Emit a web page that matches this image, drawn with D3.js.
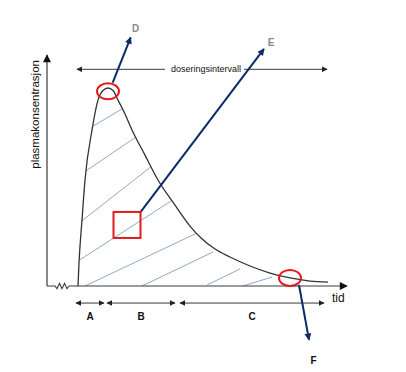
<!DOCTYPE html>
<html>
<head>
<meta charset="utf-8">
<script src="https://cdn.jsdelivr.net/npm/d3@7"></script>
<style>
  html, body { margin: 0; padding: 0; background: #fff; }
  svg { display: block; font-family: "Liberation Sans", Arial, sans-serif; }
</style>
</head>
<body>
<div id="chart"></div>
<script>
// concentration curve (time in h, concentration in arbitrary units)
var curveTime = [3.1, 3.2, 3.5, 3.8, 4.5, 5.1, 5.6, 6.1, 6.6, 7.1, 7.8, 8.5, 9.8, 11.1, 12.8, 14.3, 15.3, 16.8, 18.3, 20.3, 22.3, 24.3, 26.3, 28.1];
var curveConc = [0, 2.1, 6.0, 9.64, 14.18, 16.9, 17.77, 18.0, 17.77, 16.9, 15.64, 14.18, 11.9, 9.64, 7.36, 5.45, 4.45, 3.36, 2.64, 1.82, 1.18, 0.73, 0.45, 0.36];

// hatching under the curve: start time, start conc, end time, end conc
var hatchStartT = [3.8, 3.3, 2.8, 2.5, 3.8, 9.5, 16.0, 19.6];
var hatchStartC = [14.1, 10.1, 5.43, 1.92, 0, 0, 0.09, 0];
var hatchEndT = [8.8, 9.8, 11.8, 13.8, 15.8, 16.6, 19.3, 22.5];
var hatchEndC = [16.8, 14.1, 11.84, 8.54, 5.16, 3.09, 1.55, 0.82];

// phases under the time axis
var phaseLabels = ["A", "B", "C"];
var phaseStart = [2.9, 6.0, 13.3];
var phaseEnd = [5.7, 12.8, 27.7];

var doseInterval = [3.0, 28.0];

// annotation arrows: label, arrow start (t, c), arrow end (t, c), label position
var noteLabels = ["D", "E", "F"];
var noteStart = [[6.57, 18.48], [9.37, 6.73], [25.2, 0.09]];
var noteEnd = [[8.37, 22.6], [21.7, 21.55], [26.2, -4.9]];
var notePos = [[8.85, 23.4], [22.4, 22.1], [26.65, -6.8]];

var width = 406, height = 372;

var svg = d3.select("#chart").append("svg")
  .attr("width", width)
  .attr("height", height);

var x = d3.scaleLinear().domain([0, 30]).range([47, 347]);
var y = d3.scaleLinear().domain([0, 21]).range([286, 55]);

var axisCol = "#3a3a3a";
var navy = "#0c2a66";
var red = "#e3191c";

var defs = svg.append("defs");
function marker(id, col, w, h) {
  defs.append("marker")
    .attr("id", id)
    .attr("viewBox", "0 -5 10 10")
    .attr("refX", 9)
    .attr("refY", 0)
    .attr("markerUnits", "userSpaceOnUse")
    .attr("markerWidth", w)
    .attr("markerHeight", h)
    .attr("orient", "auto-start-reverse")
    .append("path")
    .attr("d", "M0,-5L10,0L0,5Z")
    .attr("fill", col);
}
marker("axisHead", "#111", 10, 8);
marker("smallHead", "#222", 6, 6);
marker("navyHead", navy, 7, 7);

var pts = curveTime.map(function(t, i) { return [t, curveConc[i]]; });

// clip area under the curve for the hatching
defs.append("clipPath").attr("id", "under")
  .append("path")
  .attr("d", d3.area()
    .x(function(d) { return x(d[0]); })
    .y0(y(0))
    .y1(function(d) { return y(d[1]); })
    .curve(d3.curveMonotoneX)(pts));

svg.append("g").attr("clip-path", "url(#under)")
  .selectAll(".hatch")
  .data(hatchStartT)
  .enter()
  .append("line")
  .attr("class", "hatch")
  .attr("x1", function(d, i) { return x(d); })
  .attr("y1", function(d, i) { return y(hatchStartC[i]); })
  .attr("x2", function(d, i) { return x(hatchEndT[i]); })
  .attr("y2", function(d, i) { return y(hatchEndC[i]); })
  .attr("stroke", "#8ea8cc")
  .attr("stroke-width", 1);

// axes
svg.append("line")
  .attr("x1", x(0)).attr("y1", y(0))
  .attr("x2", x(0)).attr("y2", y(21))
  .attr("stroke", axisCol).attr("stroke-width", 1.2)
  .attr("marker-end", "url(#axisHead)");

var zigT = [0, 0.8, 1.0, 1.25, 1.5, 1.75, 2.0, 2.2];
var zigC = [0, 0, -0.25, 0.25, -0.25, 0.25, -0.25, 0];
svg.append("path")
  .attr("d", d3.line()
    .x(function(d) { return x(d); })
    .y(function(d, i) { return y(zigC[i]); })(zigT))
  .attr("fill", "none")
  .attr("stroke", axisCol).attr("stroke-width", 1.1);

svg.append("line")
  .attr("x1", x(2.2)).attr("y1", y(0))
  .attr("x2", x(30)).attr("y2", y(0))
  .attr("stroke", axisCol).attr("stroke-width", 1.2)
  .attr("marker-end", "url(#axisHead)");

// concentration curve
svg.append("path")
  .attr("d", d3.line()
    .x(function(d) { return x(d[0]); })
    .y(function(d) { return y(d[1]); })
    .curve(d3.curveMonotoneX)(pts))
  .attr("fill", "none")
  .attr("stroke", "#333")
  .attr("stroke-width", 1.3);

// axis titles
svg.append("text")
  .attr("transform", "translate(" + x(-1.25) + "," + y(15.6) + ") rotate(-90)")
  .attr("text-anchor", "middle")
  .attr("dy", "0.35em")
  .attr("font-size", "11.5px")
  .attr("fill", "#111")
  .text("plasmakonsentrasjon");

svg.append("text")
  .attr("x", x(28.5))
  .attr("y", y(-1.45))
  .attr("font-size", "12px")
  .attr("fill", "#111")
  .text("tid");

// dosing interval arrow
var doseY = y(19.7);
var doseText = svg.append("text")
  .attr("x", x(15.9))
  .attr("y", doseY)
  .attr("dy", "0.35em")
  .attr("text-anchor", "middle")
  .attr("font-size", "9px")
  .attr("fill", "#111")
  .text("doseringsintervall");
var bb = doseText.node().getBBox();
svg.append("line")
  .attr("x1", bb.x - 6).attr("y1", doseY)
  .attr("x2", x(doseInterval[0])).attr("y2", doseY)
  .attr("stroke", axisCol).attr("stroke-width", 1)
  .attr("marker-end", "url(#smallHead)");
svg.append("line")
  .attr("x1", bb.x + bb.width + 3).attr("y1", doseY)
  .attr("x2", x(doseInterval[1])).attr("y2", doseY)
  .attr("stroke", axisCol).attr("stroke-width", 1)
  .attr("marker-end", "url(#smallHead)");

// phases A, B, C
var phaseY = y(-1.55);
svg.selectAll(".phase")
  .data(phaseLabels)
  .enter()
  .append("line")
  .attr("class", "phase")
  .attr("x1", function(d, i) { return x(phaseStart[i]); })
  .attr("x2", function(d, i) { return x(phaseEnd[i]); })
  .attr("y1", phaseY).attr("y2", phaseY)
  .attr("stroke", axisCol).attr("stroke-width", 1)
  .attr("marker-start", "url(#smallHead)")
  .attr("marker-end", "url(#smallHead)");

svg.selectAll(".phase-label")
  .data(phaseLabels)
  .enter()
  .append("text")
  .attr("class", "phase-label")
  .attr("x", function(d, i) { return x((phaseStart[i] + phaseEnd[i]) / 2); })
  .attr("y", y(-2.75))
  .attr("dy", "0.35em")
  .attr("text-anchor", "middle")
  .attr("font-size", "10px")
  .attr("font-weight", "bold")
  .attr("fill", "#111")
  .text(function(d) { return d; });

// navy annotation arrows
svg.selectAll(".note-arrow")
  .data(noteLabels)
  .enter()
  .append("line")
  .attr("class", "note-arrow")
  .attr("x1", function(d, i) { return x(noteStart[i][0]); })
  .attr("y1", function(d, i) { return y(noteStart[i][1]); })
  .attr("x2", function(d, i) { return x(noteEnd[i][0]); })
  .attr("y2", function(d, i) { return y(noteEnd[i][1]); })
  .attr("stroke", navy)
  .attr("stroke-width", 2)
  .attr("marker-end", "url(#navyHead)");

svg.selectAll(".note-label")
  .data(noteLabels)
  .enter()
  .append("text")
  .attr("class", "note-label")
  .attr("x", function(d, i) { return x(notePos[i][0]); })
  .attr("y", function(d, i) { return y(notePos[i][1]); })
  .attr("dy", "0.35em")
  .attr("text-anchor", "middle")
  .attr("font-size", "10px")
  .attr("font-weight", "bold")
  .attr("fill", function(d) { return d === "F" ? "#111" : "#8a8a8a"; })
  .text(function(d) { return d; });

// red markers: peak, tail, AUC square
svg.append("ellipse")
  .attr("cx", x(6.1)).attr("cy", y(17.7))
  .attr("rx", 11).attr("ry", 8)
  .attr("fill", "none").attr("stroke", red).attr("stroke-width", 2);
svg.append("ellipse")
  .attr("cx", x(24.3)).attr("cy", y(0.73))
  .attr("rx", 11).attr("ry", 8)
  .attr("fill", "none").attr("stroke", red).attr("stroke-width", 2);
svg.append("rect")
  .attr("x", x(8.0) - 13.5).attr("y", y(5.55) - 13)
  .attr("width", 27).attr("height", 26)
  .attr("fill", "none").attr("stroke", red).attr("stroke-width", 2);
</script>
</body>
</html>
